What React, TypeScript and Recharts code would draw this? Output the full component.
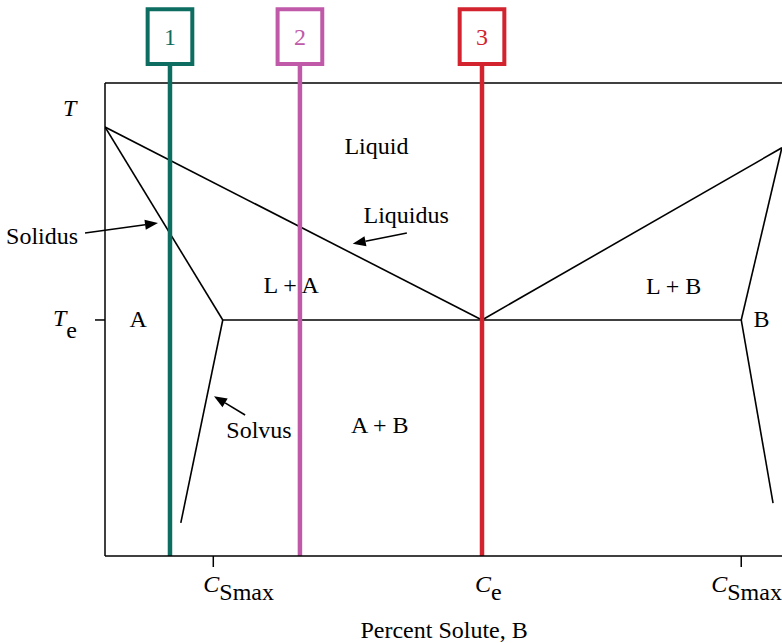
import React from 'react';
import { LineChart, Line, XAxis, YAxis, ReferenceLine, ReferenceArea, ReferenceDot } from 'recharts';

const FONT = '"Liberation Serif", "Times New Roman", serif';
const FS = 24;

// composition (% B) vs temperature (arbitrary units, 0..1000)
const liquidusA = [{ c: 0, t: 907 }, { c: 55.7, t: 499 }];
const solidusA = [{ c: 0, t: 907 }, { c: 17.4, t: 499 }];
const solvusA = [{ c: 17.4, t: 499 }, { c: 11.2, t: 70 }];
const eutectic = [{ c: 17.4, t: 499 }, { c: 94.0, t: 499 }];
const liquidusB = [{ c: 55.7, t: 499 }, { c: 100, t: 863 }];
const solidusB = [{ c: 100, t: 863 }, { c: 94.0, t: 499 }];
const solvusB = [{ c: 94.0, t: 499 }, { c: 98.7, t: 112 }];
const boundaries = [liquidusA, solidusA, solvusA, eutectic, liquidusB, solidusB, solvusB];

// alloys 1..3
const alloyNames = ['1', '2', '3'];
const alloyComp = [9.6, 28.8, 55.7];
const alloyColors = ['#0e6d61', '#c05aa8', '#d2232e'];
const alloyTop = 1040;
const boxTop = 1156;
const boxHalf = 3.3;

// axis ticks
const xTicks = [16.0, 55.7, 94.0];
const xTickSub = ['Smax', 'e', 'Smax'];
const yTicks = [499, 947];
const yTickSub = ['e', ''];

// region labels
const regionText = ['Liquid', 'Liquidus', 'Solidus', 'L + A', 'A', 'L + B', 'B', 'Solvus', 'A + B', 'Percent Solute, B'];
const regionC = [40.1, 44.5, -9.3, 27.5, 4.9, 84.0, 97.0, 22.75, 40.6, 50.1];
const regionT = [867, 723, 677, 573, 503, 571, 503, 268, 277, -156];

// pointer arrows: tail -> tip
const arrows = [
  [{ x: -2.95, y: 683 }, { x: 7.83, y: 704 }],
  [{ x: 44.6, y: 683 }, { x: 36.6, y: 660 }],
  [{ x: 20.7, y: 298 }, { x: 16.1, y: 338 }],
];

const ArrowShape = (p: any) => {
  const { x1, y1, x2, y2 } = p;
  const ang = Math.atan2(y2 - y1, x2 - x1);
  const len = 13;
  const w = 5;
  const bx = x2 - len * Math.cos(ang);
  const by = y2 - len * Math.sin(ang);
  const px = -Math.sin(ang) * w;
  const py = Math.cos(ang) * w;
  return (
    <g>
      <line x1={x1} y1={y1} x2={bx} y2={by} stroke="#000" strokeWidth={1.6} />
      <polygon points={`${x2},${y2} ${bx + px},${by + py} ${bx - px},${by - py}`} fill="#000" />
    </g>
  );
};

const XTick = (props: any) => {
  const { x, y, index } = props;
  const shift = [-10, -7, -30][index] ?? -8;
  return (
    <g>
      {index !== 1 && <line x1={x} y1={y} x2={x} y2={y + 11} stroke="#000" strokeWidth={1.5} />}
      <text x={x + shift} y={y + 36} fontFamily={FONT} fontSize={FS} fill="#000">
        <tspan fontStyle="italic">C</tspan>
        <tspan dy={8}>{xTickSub[index]}</tspan>
      </text>
    </g>
  );
};

const YTick = (props: any) => {
  const { x, y, index } = props;
  const sub = yTickSub[index];
  if (sub) {
    return (
      <g>
        <line x1={x - 10} y1={y} x2={x} y2={y} stroke="#000" strokeWidth={1.5} />
        <text x={x - 52} y={y + 6} fontFamily={FONT} fontSize={FS} fill="#000">
          <tspan fontStyle="italic">T</tspan>
          <tspan dx={0} dy={12}>{sub}</tspan>
        </text>
      </g>
    );
  }
  return (
    <text x={x - 42} y={y + 8} fontFamily={FONT} fontSize={FS} fontStyle="italic" fill="#000">
      T
    </text>
  );
};

export default function App() {
  return (
    <div style={{ position: 'fixed', left: 0, top: 0, width: 782, height: 643, overflow: 'hidden', background: '#fff' }}>
      <LineChart width={800} height={643} margin={{ top: 83, right: 8, bottom: 57, left: 45 }}>
        <XAxis
          dataKey="c"
          type="number"
          domain={[0, 101.5]}
          allowDataOverflow
          ticks={xTicks}
          tick={<XTick />}
          tickLine={false}
          tickSize={0}
          tickMargin={0}
          height={30}
          axisLine={{ stroke: '#000', strokeWidth: 1.5 }}
        />
        <YAxis
          type="number"
          domain={[0, 1000]}
          allowDataOverflow
          ticks={yTicks}
          tick={<YTick />}
          tickLine={false}
          tickSize={0}
          tickMargin={0}
          width={60}
          axisLine={{ stroke: '#000', strokeWidth: 1.5 }}
        />
        <ReferenceLine y={1000} stroke="#000" strokeWidth={1.5} />
        {boundaries.map((d, i) => (
          <Line
            key={`b${i}`}
            data={d}
            dataKey="t"
            type="linear"
            stroke="#000"
            strokeWidth={1.6}
            dot={false}
            activeDot={false}
            isAnimationActive={false}
          />
        ))}
        {arrows.map((seg, i) => (
          <ReferenceLine key={`a${i}`} segment={seg} ifOverflow="visible" shape={<ArrowShape />} />
        ))}
        {regionText.map((txt, i) => (
          <ReferenceDot
            key={`r${i}`}
            x={regionC[i]}
            y={regionT[i]}
            r={0}
            fill="none"
            stroke="none"
            ifOverflow="visible"
            label={{ value: txt, position: 'center', fill: '#000', fontSize: FS, fontFamily: FONT }}
          />
        ))}
        {alloyNames.map((n, i) => (
          <ReferenceLine
            key={`l${i}`}
            segment={[{ x: alloyComp[i], y: 0 }, { x: alloyComp[i], y: alloyTop }]}
            stroke={alloyColors[i]}
            strokeWidth={4.5}
            ifOverflow="visible"
          />
        ))}
        {alloyNames.map((n, i) => (
          <ReferenceArea
            key={`x${i}`}
            x1={alloyComp[i] - boxHalf}
            x2={alloyComp[i] + boxHalf}
            y1={alloyTop}
            y2={boxTop}
            fill="#fff"
            fillOpacity={1}
            stroke={alloyColors[i]}
            strokeWidth={4}
            ifOverflow="visible"
            label={{ value: n, position: 'center', fill: alloyColors[i], fontSize: FS, fontFamily: FONT }}
          />
        ))}
      </LineChart>
    </div>
  );
}
